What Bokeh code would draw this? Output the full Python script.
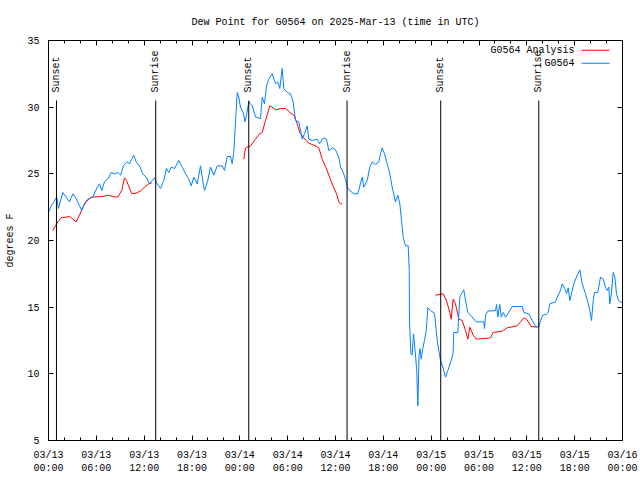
from math import pi
from bokeh.plotting import figure
from bokeh.models import FixedTicker, LinearAxis, Label, BoxAnnotation, Range1d, Title
from bokeh.core.properties import value
from bokeh.embed import file_html
from bokeh.resources import INLINE

FONT = "Liberation Mono"

# time axis: hours since 2025-03-13 00:00 UTC
obs_hours = [0.0, 0.34, 1.04, 1.25, 1.79, 2.22, 2.63, 3.05, 3.47, 3.89,
             4.18, 4.52, 4.93, 5.56, 6.11, 6.40, 6.69, 7.02, 7.44, 7.86,
             8.28, 8.69, 9.03, 9.41, 9.87, 10.16, 10.45, 10.70, 11.0, 11.41,
             11.83, 12.26, 12.67, 13.30, 13.64, 14.05, 14.46, 14.80, 15.09, 15.39,
             15.81, 16.34, 16.77, 17.19, 17.60, 17.90, 18.23, 18.65, 19.07, 19.41,
             19.57, 19.98, 20.32, 20.74, 21.16, 21.79, 22.08, 22.42, 22.83, 23.04,
             23.24, 23.46, 23.67, 23.87, 24.08, 24.42, 24.65, 24.90, 25.13, 25.55,
             25.97, 26.59, 26.81, 27.09, 27.35, 27.63, 28.06, 28.47, 28.76, 29.01,
             29.31, 29.52, 29.94, 30.36, 30.69, 30.98, 31.40, 31.82, 32.11, 32.45,
             32.65, 33.08, 33.71, 33.99, 34.46, 34.87, 35.16, 35.59, 36.00, 36.42,
             36.63, 36.97, 37.26, 37.47, 37.79, 38.30, 38.80, 39.05, 39.35, 39.55,
             39.98, 40.30, 40.61, 41.02, 41.43, 41.65, 41.86, 42.15, 42.49, 42.81,
             43.11, 43.53, 43.82, 44.07, 44.28, 44.49, 44.78, 45.12, 45.25, 45.28,
             45.47, 45.60, 45.79, 45.98, 46.19, 46.33, 46.48, 46.60, 46.75, 46.95,
             47.16, 47.38, 47.58, 47.92, 48.42, 48.63, 48.76, 48.96, 49.17, 49.51,
             49.80, 50.09, 50.51, 50.76, 50.84, 51.34, 51.59, 51.89, 52.09, 52.31,
             52.60, 52.94, 53.65, 54.60, 54.69, 54.82, 55.10, 56.07, 56.20, 56.36,
             56.61, 56.79, 57.04, 57.33, 57.61, 58.17, 59.42, 59.62, 60.25, 60.68,
             61.09, 61.50, 61.72, 62.00, 62.43, 62.68, 62.88, 63.60, 63.81, 64.22,
             64.44, 64.76, 64.98, 65.19, 65.39, 65.69, 65.89, 66.32, 66.65, 66.95,
             67.36, 67.65, 67.90, 68.11, 68.33, 68.49, 68.90, 69.24, 69.58, 69.87,
             70.08, 70.28, 70.41, 70.58, 70.83, 71.04, 71.25, 71.50, 71.75, 72.0]
obs_dewpt = [22.1, 22.6, 23.25, 22.4, 23.6, 23.25, 22.9, 23.5, 23.15, 22.6,
             22.25, 22.8, 23.1, 23.25, 24.0, 24.25, 23.75, 24.4, 24.6, 25.1,
             25.0, 25.1, 24.9, 25.6, 25.9, 25.75, 26.1, 26.4, 25.9, 25.6,
             25.0, 24.75, 24.25, 24.7, 24.25, 23.9, 24.5, 25.4, 25.1, 25.5,
             25.4, 26.0, 25.5, 25.0, 24.6, 24.1, 24.75, 24.25, 25.6, 24.25,
             23.75, 24.5, 25.5, 24.9, 25.6, 25.6, 25.25, 26.3, 26.3, 25.75,
             26.6, 28.9, 31.1, 30.75, 30.0, 29.6, 28.9, 29.6, 30.4, 30.1,
             29.25, 29.15, 30.75, 30.25, 31.6, 32.1, 32.5, 31.75, 31.9, 31.4,
             32.9, 31.4, 31.1, 31.0, 30.4, 29.0, 28.9, 27.6, 28.0, 28.6,
             27.6, 27.5, 27.6, 27.25, 27.7, 27.6, 26.75, 26.95, 26.8, 26.25,
             25.5, 25.1, 24.6, 24.0, 23.75, 23.5, 23.5, 24.1, 24.75, 24.0,
             24.5, 25.5, 25.9, 25.7, 25.9, 26.5, 26.95, 26.5, 25.75, 25.0,
             24.0, 22.9, 23.4, 22.75, 21.5, 20.25, 19.6, 19.6, 17.75, 13.9,
             11.5, 11.4, 13.0, 11.75, 10.25, 7.6, 11.4, 11.9, 11.1, 11.9,
             12.5, 13.25, 14.95, 14.75, 14.55, 13.25, 12.5, 11.75, 11.0, 10.4,
             9.75, 10.25, 11.0, 11.6, 13.1, 13.1, 15.75, 16.1, 16.3, 15.5,
             14.6, 14.4, 13.9, 13.9, 13.4, 14.4, 14.7, 14.75, 15.2, 14.25,
             15.2, 14.25, 14.6, 14.25, 14.5, 15.05, 15.05, 14.6, 14.5, 14.0,
             13.55, 13.5, 14.0, 14.4, 14.45, 14.6, 15.25, 15.4, 15.75, 16.25,
             16.75, 16.4, 16.0, 16.45, 15.5, 16.25, 16.75, 17.4, 17.8, 16.75,
             16.0, 15.4, 14.75, 14.0, 15.5, 16.1, 16.1, 17.25, 17.1, 16.5,
             16.25, 16.5, 15.25, 15.9, 17.6, 17.25, 16.0, 15.5, 15.4, 15.3]

ana1_hours = [0.54, 1.17, 1.59, 2.63, 3.05, 3.47, 3.89, 4.30, 4.73, 5.36, 6.81,
              7.44, 8.07, 8.69, 9.19, 9.53, 9.78, 10.45, 11.0, 11.63, 12.04, 12.54, 12.92]
ana1_dewpt = [20.75, 21.4, 21.7, 21.8, 21.6, 21.4, 21.9, 22.5, 22.9, 23.25, 23.3,
              23.4, 23.3, 23.25, 23.75, 24.7, 24.5, 23.5, 23.55, 23.75, 24.0, 24.25, 24.3]
ana2_hours = [24.50, 24.71, 25.34, 25.97, 26.38, 26.81, 27.22, 27.76, 28.06, 28.47,
              29.10, 29.73, 30.27, 30.77, 31.11, 31.52, 31.95, 32.65, 33.49, 33.91,
              34.33, 34.75, 35.16, 35.71, 36.13, 36.42, 36.63, 36.84]
ana2_dewpt = [26.1, 26.95, 27.1, 27.6, 27.95, 28.1, 29.0, 30.1, 30.0, 29.8,
              29.9, 29.9, 29.6, 29.4, 28.9, 28.1, 27.75, 27.3, 27.1, 26.95,
              26.1, 25.55, 24.9, 24.05, 23.5, 22.9, 22.75, 22.75]
ana3_hours = [48.54, 49.51, 49.92, 50.34, 50.51, 50.76, 51.05, 51.47, 51.89, 52.31,
              52.60, 52.85, 53.27, 53.69, 55.44, 55.78, 56.91, 57.53, 58.79, 59.62,
              59.96, 60.55, 61.30]
ana3_dewpt = [15.9, 16.0, 15.5, 14.6, 14.1, 15.6, 15.25, 14.1, 14.0, 13.25,
              12.6, 13.5, 12.9, 12.6, 12.7, 13.1, 13.2, 13.45, 13.6, 14.2,
              14.1, 13.55, 13.5]

event_hours = [1.0, 13.45, 25.12, 37.45, 49.2, 61.5]
event_labels = ["Sunset", "Sunrise", "Sunset", "Sunrise", "Sunset", "Sunrise"]

x_ticks = [0, 6, 12, 18, 24, 30, 36, 42, 48, 54, 60, 66, 72]
x_tick_labels = ["03/13\n00:00", "03/13\n06:00", "03/13\n12:00", "03/13\n18:00",
                 "03/14\n00:00", "03/14\n06:00", "03/14\n12:00", "03/14\n18:00",
                 "03/15\n00:00", "03/15\n06:00", "03/15\n12:00", "03/15\n18:00",
                 "03/16\n00:00"]
x_minor = list(range(0, 73, 2))
y_ticks = [5, 10, 15, 20, 25, 30, 35]

title_text = "Dew Point for G0564 on 2025-Mar-13 (time in UTC)"
series_names = ["G0564 Analysis", "G0564"]
series_colors = ["#ff0000", "#0080ff"]

x_lo, x_hi = 0, 72
y_lo, y_hi = 5, 35

p = figure(frame_width=574, frame_height=400, output_backend="svg", toolbar_location=None,
           x_range=Range1d(x_lo, x_hi), y_range=Range1d(y_lo, y_hi),
           min_border_left=48, min_border_right=18, min_border_top=40, min_border_bottom=40,
           title=None)
p.background_fill_color = "white"
p.border_fill_color = "white"
p.grid.visible = False
p.outline_line_color = "black"
p.outline_line_width = 1

def style_axis(ax, ticks, labels=None):
    ax.axis_line_color = "black"
    ax.major_tick_line_color = "black"
    ax.minor_tick_line_color = "black"
    ax.major_tick_in = 5
    ax.major_tick_out = 0
    ax.minor_tick_in = 3
    ax.minor_tick_out = 0
    ax.major_label_text_font = FONT
    ax.major_label_text_font_size = "10px"
    ax.major_label_text_color = "black"
    if labels is None:
        ax.major_label_overrides = {t: "" for t in ticks}
        ax.major_label_standoff = 0
    else:
        ax.major_label_overrides = {t: l for t, l in zip(ticks, labels)}

xb = p.xaxis[0]
xb.ticker = FixedTicker(ticks=x_ticks, minor_ticks=x_minor)
style_axis(xb, x_ticks, x_tick_labels)
xb.major_label_standoff = 9

yl = p.yaxis[0]
yl.ticker = FixedTicker(ticks=y_ticks, minor_ticks=[])
style_axis(yl, y_ticks, [str(v) for v in y_ticks])
yl.major_label_standoff = 9
yl.axis_label = "degrees F"
yl.axis_label_text_font = FONT
yl.axis_label_text_font_size = "10px"
yl.axis_label_text_font_style = "normal"
yl.axis_label_text_color = "black"
yl.axis_label_standoff = 8

xt = LinearAxis(ticker=FixedTicker(ticks=x_ticks, minor_ticks=x_minor))
style_axis(xt, x_ticks)
p.add_layout(xt, "above")
yr = LinearAxis(ticker=FixedTicker(ticks=y_ticks, minor_ticks=[]))
style_axis(yr, y_ticks)
p.add_layout(yr, "right")

t = Title(text=title_text, align="center", text_font=FONT, text_font_size="10px",
          text_font_style="normal", text_color="black", standoff=25)
p.add_layout(t, "above")

# analysis (red) first, observations (blue) on top
p.multi_line(xs=[ana1_hours, ana2_hours, ana3_hours], ys=[ana1_dewpt, ana2_dewpt, ana3_dewpt],
             line_color=series_colors[0], line_width=1)
p.line(obs_hours, obs_dewpt, line_color=series_colors[1], line_width=1)

# sunrise / sunset markers
line_top = y_lo + 0.85 * (y_hi - y_lo)
label_y = y_lo + 0.87 * (y_hi - y_lo)
p.segment(x0=event_hours, y0=[y_lo] * len(event_hours), x1=event_hours,
          y1=[line_top] * len(event_hours), line_color="black", line_width=1)
p.text(x=event_hours, y=[label_y] * len(event_hours), text=event_labels, angle=pi / 2,
       text_align="left", text_baseline="middle", text_font=value(FONT),
       text_font_size="10px", text_color="black")

# legend (text, then line sample), top-right inside frame
for i, (name, col) in enumerate(zip(series_names, series_colors)):
    yy = 390.2 - 13 * i
    p.add_layout(Label(x=526, y=yy, x_units="screen", y_units="screen", text=name,
                       text_align="right", text_baseline="middle", text_font=FONT,
                       text_font_size="10px", text_color="black"))
    p.add_layout(BoxAnnotation(left=533, right=561, bottom=yy - 0.5, top=yy + 0.5,
                               left_units="screen", right_units="screen",
                               bottom_units="screen", top_units="screen",
                               fill_color=col, fill_alpha=1, line_color=None))

open("out.html", "w").write(file_html(p, INLINE))
